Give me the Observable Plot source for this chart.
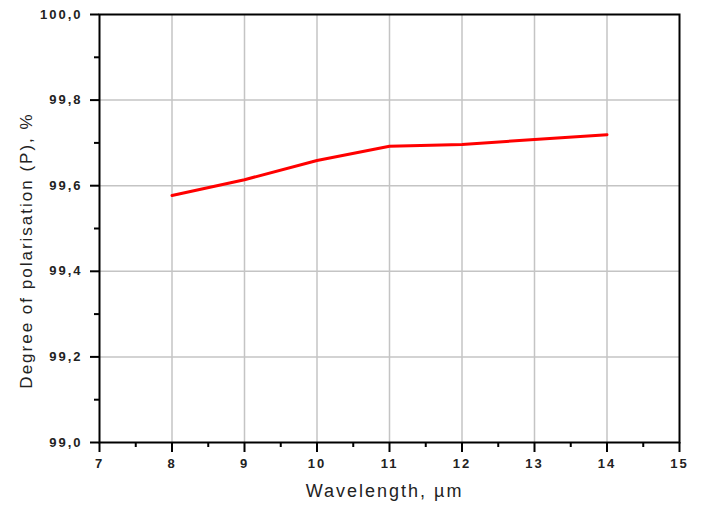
<!DOCTYPE html>
<html>
<head>
<meta charset="utf-8">
<script src="https://cdn.jsdelivr.net/npm/d3@7"></script>
<script src="https://cdn.jsdelivr.net/npm/@observablehq/plot@0.6"></script>
<style>
  html, body { margin: 0; padding: 0; background: #fff; }
  #chart svg { font-family: "Liberation Sans", Arial, sans-serif; }
  g[aria-label="x-axis tick label"] text, g[aria-label="y-axis tick label"] text { letter-spacing: 2px; }
  .title text { letter-spacing: 2px; }
</style>
</head>
<body>
<div id="chart"></div>
<script>
const wavelength = [8, 9, 10, 11, 12, 13, 14];
const polarisation = [99.577, 99.614, 99.659, 99.692, 99.696, 99.708, 99.719];
const xTicks = [7, 8, 9, 10, 11, 12, 13, 14, 15];
const xMinor = [7.5, 8.5, 9.5, 10.5, 11.5, 12.5, 13.5, 14.5];
const yTicks = [99.0, 99.2, 99.4, 99.6, 99.8, 100.0];
const yMinor = [99.1, 99.3, 99.5, 99.7, 99.9];
const xTitle = "Wavelength, µm";
const yTitle = "Degree of polarisation (P), %";

const data = wavelength.map((w, i) => ({w, p: polarisation[i]}));
const fmt = d => d.toFixed(1).replace(".", ",");

const chart = Plot.plot({
  width: 701,
  height: 509,
  marginLeft: 99,
  marginRight: 22,
  marginTop: 14,
  marginBottom: 67,
  x: {domain: [7, 15], axis: null},
  y: {domain: [99, 100], axis: null},
  marks: [
    Plot.ruleX(xTicks.slice(1, -1), {stroke: "#c4c4c4", strokeWidth: 1.5}),
    Plot.ruleY(yTicks.slice(1, -1), {stroke: "#c4c4c4", strokeWidth: 1.5}),
    Plot.line(data, {x: "w", y: "p", stroke: "#ff0000", strokeWidth: 3}),
    Plot.frame({stroke: "#000", strokeWidth: 2}),
    Plot.axisX({ticks: xTicks, tickSize: 10, tickPadding: 6, tickFormat: d => String(d), fontSize: 13, fontWeight: "bold", fill: "#222", stroke: "#000", strokeWidth: 2, label: null}),
    Plot.axisX({ticks: xMinor, tickSize: 5, tickFormat: () => "", stroke: "#000", strokeWidth: 2, label: null}),
    Plot.axisY({ticks: yTicks, tickSize: 9, tickPadding: 8, tickFormat: fmt, fontSize: 13, fontWeight: "bold", fill: "#222", stroke: "#000", strokeWidth: 2, label: null}),
    Plot.axisY({ticks: yMinor, tickSize: 5, tickFormat: () => "", stroke: "#000", strokeWidth: 2, label: null}),
    Plot.text([xTitle], {frameAnchor: "bottom", dx: -5, dy: 54, text: d => d, fontSize: 18, fill: "#222", className: "title"}),
    Plot.text([yTitle], {frameAnchor: "left", dx: -73, dy: 22, rotate: -90, textAnchor: "middle", text: d => d, fontSize: 17, fill: "#222", className: "title"})
  ]
});
document.getElementById("chart").appendChild(chart);
</script>
</body>
</html>
